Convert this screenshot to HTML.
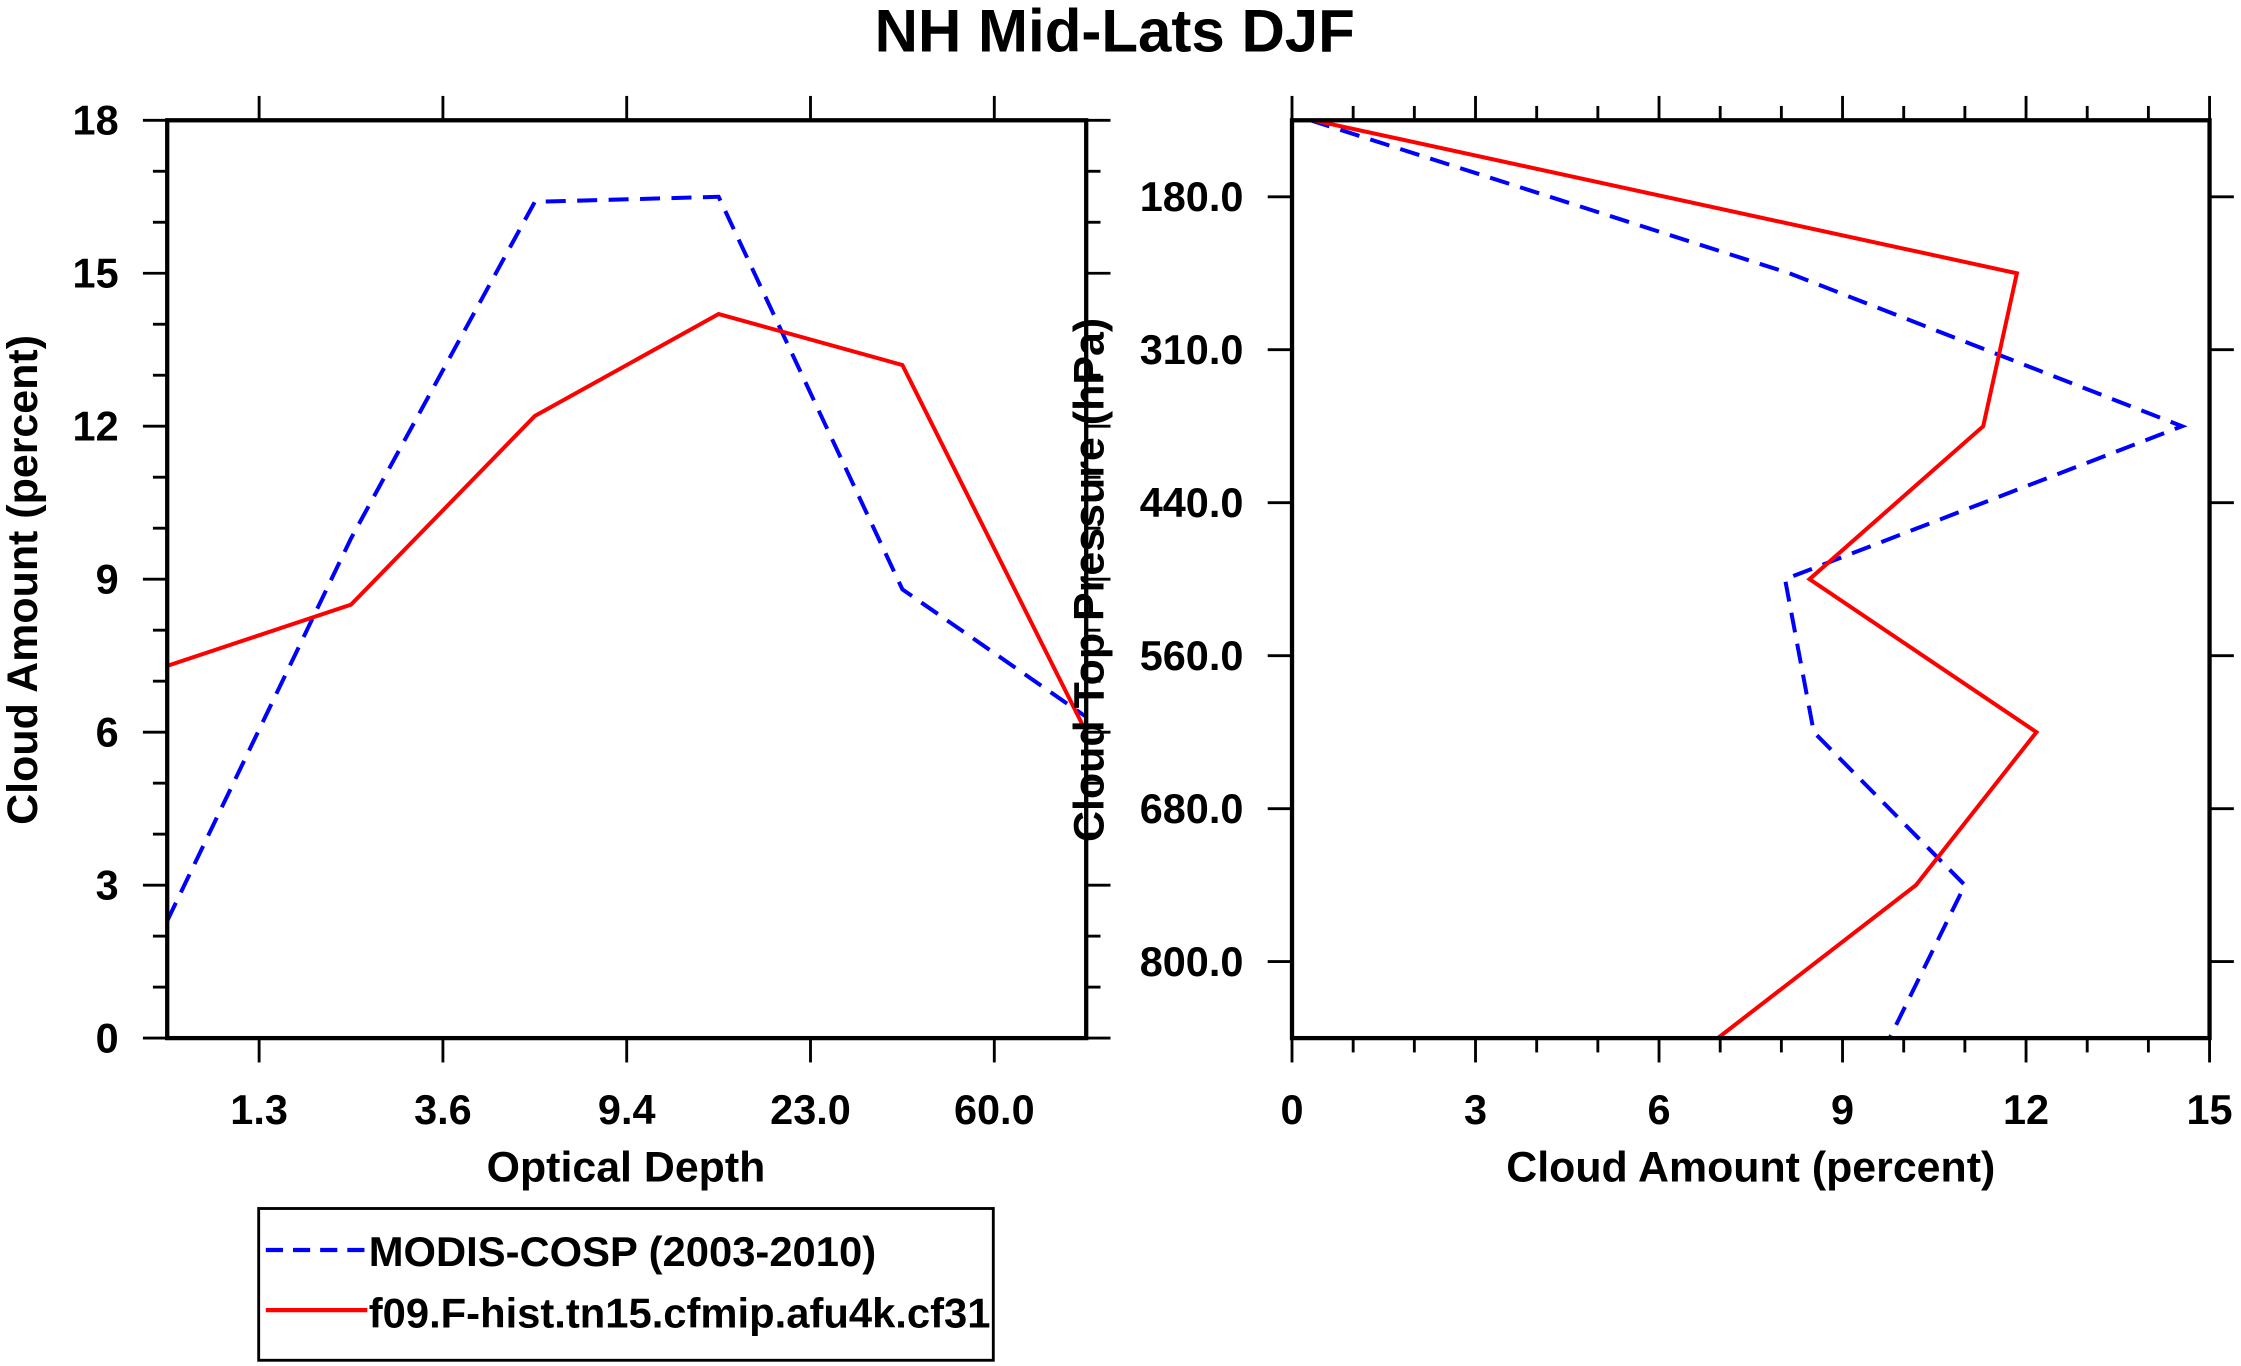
<!DOCTYPE html>
<html><head><meta charset="utf-8"><style>
html,body{margin:0;padding:0;background:#fff;}
svg{display:block;}
text{font-family:"Liberation Sans",sans-serif;font-weight:bold;fill:#000;}
</style></head><body>
<svg id="chart" width="2241" height="1366" viewBox="0 0 1568 954" preserveAspectRatio="none">
<text x="780" y="36" font-size="42" text-anchor="middle">NH Mid-Lats DJF</text>
<g id="left"></g>
<g id="right"></g>
<g>
<rect x="181" y="844" width="514" height="106" fill="none" stroke="#000" stroke-width="2"/>
<line x1="186" y1="873" x2="257" y2="873" stroke="#0000ff" stroke-width="3" stroke-dasharray="12,7"/>
<text x="258" y="884" font-size="29" textLength="355" lengthAdjust="spacingAndGlyphs">MODIS-COSP (2003-2010)</text>
<line x1="186" y1="915" x2="257" y2="915" stroke="#ff0000" stroke-width="3"/>
<text x="258" y="927" font-size="29" textLength="435" lengthAdjust="spacingAndGlyphs">f09.F-hist.tn15.cfmip.afu4k.cf31</text>
</g>
</svg>
<script>
const tauLabels = ["1.3","3.6","9.4","23.0","60.0"];
const tauObs = [2.3, 9.8, 16.4, 16.5, 8.8, 6.3];
const tauModel = [7.3, 8.5, 12.2, 14.2, 13.2, 6.0];
const yTicksLeft = [0,3,6,9,12,15,18];
const presLabels = ["180.0","310.0","440.0","560.0","680.0","800.0"];
const presObs = [0.3, 8.13, 14.55, 8.06, 8.53, 11.0, 9.77];
const presModel = [0.35, 11.85, 11.3, 8.46, 12.17, 10.2, 6.96];
const xTicksRight = [0,3,6,9,12,15];

const NS="http://www.w3.org/2000/svg";
function mk(parent,tag,attrs){const e=document.createElementNS(NS,tag);for(const k in attrs)e.setAttribute(k,attrs[k]);parent.appendChild(e);return e;}
function ln(p,x1,y1,x2,y2){const l=mk(p,'line',{x1,y1,x2,y2,stroke:'#000','stroke-width':2});

return l;}
function tx(p,x,y,s,size,anchor,name){const t=mk(p,'text',{x,y,'font-size':size,'text-anchor':anchor});t.textContent=s;

return t;}

// LEFT
const L=document.getElementById('left');
const lx0=117,lx1=760,ly0=84,ly1=725;
const lxs=i=>lx0+(lx1-lx0)*i/(tauObs.length-1);
const lys=v=>ly1-(ly1-ly0)*v/18;
for(let v=0;v<=18;v++){const y=lys(v);const major=v%3===0;const len=major?17:10;
ln(L,lx0-len,y,lx0,y);ln(L,lx1,y,lx1+len,y);}
yTicksLeft.forEach(v=>tx(L,lx0-34,lys(v)+10,String(v),29,'end','y-tick-label'));
tauLabels.forEach((s,i)=>{const x=lxs(i+0.5);ln(L,x,ly1,x,ly1+17);ln(L,x,ly0-17,x,ly0);tx(L,x,785,s,29,'middle','x-tick-label');});
tx(L,438,825,'Optical Depth',30,'middle','x-axis-title');
const lyt=tx(L,0,0,'Cloud Amount (percent)',30,'middle','y-axis-title');
lyt.setAttribute('transform','translate(26,405) rotate(-90)');
function poly(p,xs,ys,arr,color,dash,name){const pts=arr.map((v,i)=>xs(i,v)+','+ys(i,v)).join(' ');
const pl=mk(p,'polyline',{points:pts,fill:'none',stroke:color,'stroke-width':2.8});
if(dash)pl.setAttribute('stroke-dasharray','14,8');

}
poly(L,(i)=>lxs(i),(i,v)=>lys(v),tauObs,'#0000ff',true,'modis-line-optical-depth');
poly(L,(i)=>lxs(i),(i,v)=>lys(v),tauModel,'#ff0000',false,'model-line-optical-depth');
const lb=mk(L,'rect',{x:lx0,y:ly0,width:lx1-lx0,height:ly1-ly0,fill:'none',stroke:'#000','stroke-width':3});



// RIGHT
const R=document.getElementById('right');
const rx0=904,rx1=1546,ry0=84,ry1=725;
const rxs=v=>rx0+(rx1-rx0)*v/15;
const rys=i=>ry0+(ry1-ry0)*i/(presObs.length-1);
for(let v=0;v<=15;v++){const x=rxs(v);const major=v%3===0;const len=major?17:10;
ln(R,x,ry1,x,ry1+len);ln(R,x,ry0-len,x,ry0);}
xTicksRight.forEach(v=>tx(R,rxs(v),785,String(v),29,'middle','x-tick-label'));
presLabels.forEach((s,i)=>{const y=rys(i+0.5);ln(R,rx0-17,y,rx0,y);ln(R,rx1,y,rx1+17,y);tx(R,rx0-34,y+10,s,29,'end','y-tick-label');});
tx(R,1225,825,'Cloud Amount (percent)',30,'middle','x-axis-title');
const ryt=tx(R,0,0,'Cloud Top Pressure (hPa)',30,'middle','y-axis-title');
ryt.setAttribute('transform','translate(772,405) rotate(-90)');
poly(R,(i,v)=>rxs(v),(i)=>rys(i),presObs,'#0000ff',true,'modis-line-pressure');
poly(R,(i,v)=>rxs(v),(i)=>rys(i),presModel,'#ff0000',false,'model-line-pressure');
const rb=mk(R,'rect',{x:rx0,y:ry0,width:rx1-rx0,height:ry1-ry0,fill:'none',stroke:'#000','stroke-width':3});


</script>
</body></html>
